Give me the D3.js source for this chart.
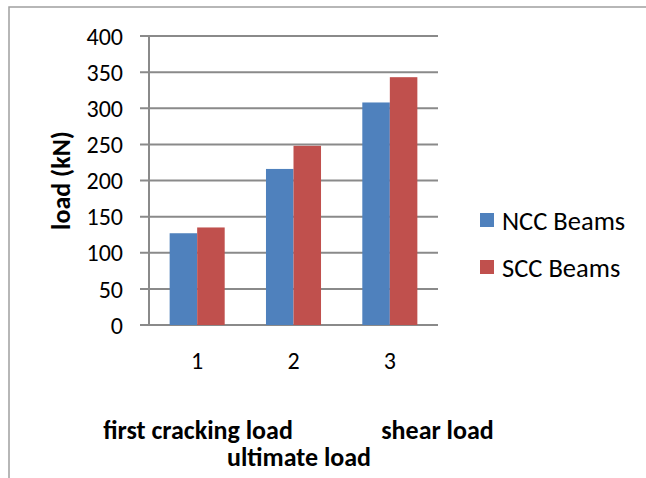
<!DOCTYPE html>
<html>
<head>
<meta charset="utf-8">
<script src="https://cdn.jsdelivr.net/npm/d3@7/dist/d3.min.js"></script>
<style>
  html, body { margin: 0; padding: 0; background: #fff; }
  svg { display: block; }
  text { font-family: Carlito, "Open Sans", sans-serif; fill: #000; }
</style>
</head>
<body>
<svg id="chart" width="646" height="478"></svg>
<script>
// Beam test loads (kN) for the three load stages
const categories = ["1", "2", "3"];
const seriesNames = ["NCC Beams", "SCC Beams"];
const nccValues = [127, 216, 308];
const sccValues = [135, 248, 343];
const seriesColors = ["#4F81BD", "#C0504D"];
const yTicks = [0, 50, 100, 150, 200, 250, 300, 350, 400];
const yTitle = "load (kN)";
const stageLabels = ["first cracking load", "shear load", "ultimate load"];

const rows = categories.map((c, i) => ({ cat: c, vals: [nccValues[i], sccValues[i]] }));

const svg = d3.select("#chart");
const W = 646, H = 478;
const plot = { left: 149, right: 438, top: 36, bottom: 325 };
const gridColor = "#8a8a8a";

// chart frame (runs past the right and bottom edges of the view)
svg.append("rect")
  .attr("x", 9).attr("y", 7)
  .attr("width", W + 20).attr("height", H + 20)
  .attr("fill", "none").attr("stroke", "#a0a0a0").attr("stroke-width", 1.5);

const y = d3.scaleLinear().domain([0, 400]).range([plot.bottom, plot.top]);
const x0 = d3.scaleBand().domain(categories).range([plot.left, plot.right]).padding(0);
const x1 = d3.scaleBand().domain(d3.range(seriesNames.length))
  .range([0, x0.bandwidth()]).paddingInner(0).paddingOuter(0.75);

// horizontal gridlines with tick stubs left of the axis
svg.append("g").selectAll("line").data(yTicks).join("line")
  .attr("x1", plot.left - 9).attr("x2", plot.right)
  .attr("y1", d => y(d)).attr("y2", d => y(d))
  .attr("stroke", gridColor).attr("stroke-width", 2);

// y-axis tick labels
const tickFs = 24;
const textFs = 26.5;
const boldFs = 26;
svg.append("g").selectAll("text").data(yTicks).join("text")
  .attr("x", 123).attr("y", d => y(d))
  .attr("dy", "0.36em")
  .attr("text-anchor", "end")
  .style("font-size", tickFs + "px")
  .text(d => d);

// bars
const groups = svg.append("g").selectAll("g").data(rows).join("g")
  .attr("transform", d => `translate(${x0(d.cat)},0)`);
groups.selectAll("rect").data(d => d.vals).join("rect")
  .attr("x", (v, i) => x1(i))
  .attr("width", x1.bandwidth())
  .attr("y", v => y(v))
  .attr("height", v => y(0) - y(v))
  .attr("fill", (v, i) => seriesColors[i]);

// vertical axis line
svg.append("line")
  .attr("x1", plot.left).attr("x2", plot.left)
  .attr("y1", plot.top).attr("y2", plot.bottom)
  .attr("stroke", gridColor).attr("stroke-width", 2);

// category labels
svg.append("g").selectAll("text").data(categories).join("text")
  .attr("x", d => x0(d) + x0.bandwidth() / 2)
  .attr("y", 369)
  .attr("text-anchor", "middle")
  .style("font-size", tickFs + "px")
  .text(d => d);

// y-axis title
svg.append("text")
  .attr("transform", `translate(70,${(plot.top + plot.bottom) / 2}) rotate(-90)`)
  .attr("text-anchor", "middle")
  .style("font-size", boldFs + "px").style("font-weight", "bold")
  .text(yTitle);

// load stage titles below the axis
const stagePos = [
  { x: 198, y: 439 },
  { x: 437.5, y: 439 },
  { x: 299, y: 466 }
];
svg.append("g").selectAll("text").data(stageLabels).join("text")
  .attr("x", (d, i) => stagePos[i].x)
  .attr("y", (d, i) => stagePos[i].y)
  .attr("text-anchor", "middle")
  .style("font-size", boldFs + "px").style("font-weight", "bold")
  .text(d => d);

// legend
const legend = svg.append("g").selectAll("g").data(seriesNames).join("g")
  .attr("transform", (d, i) => `translate(480,${220 + i * 47})`);
legend.append("rect")
  .attr("x", 0).attr("y", -7).attr("width", 14).attr("height", 14)
  .attr("fill", (d, i) => seriesColors[i]);
legend.append("text")
  .attr("x", 22).attr("y", 0).attr("dy", "0.36em")
  .style("font-size", textFs + "px")
  .text(d => d);
</script>
</body>
</html>
